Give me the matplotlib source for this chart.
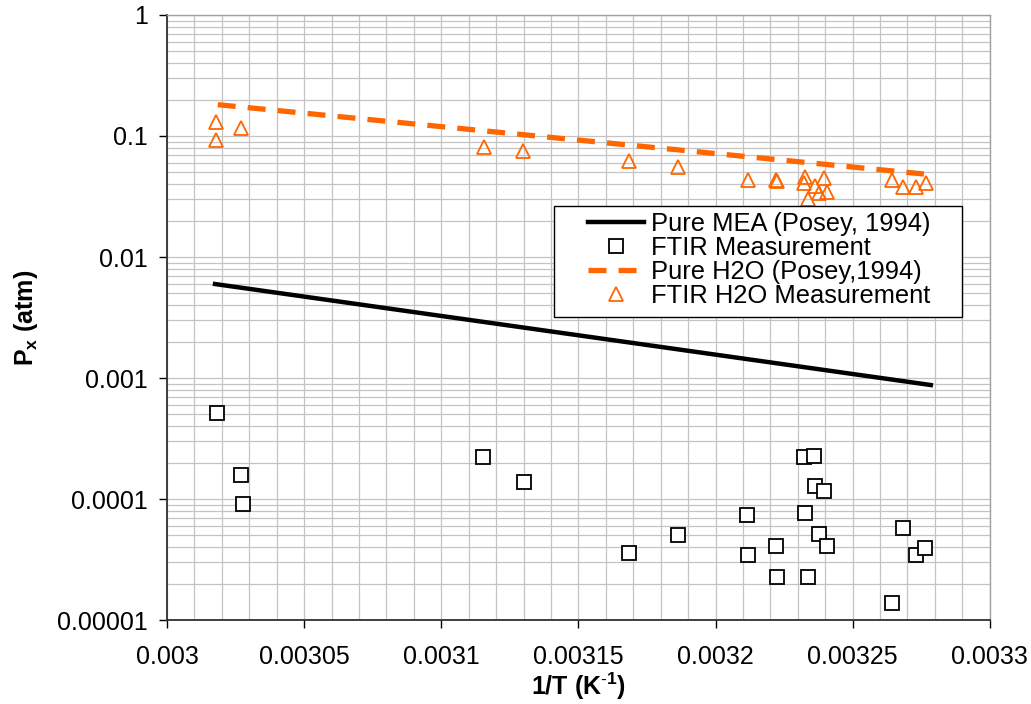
#!/usr/bin/env python3
"""Vapour pressure of MEA and H2O vs 1/T: Posey correlation and FTIR data."""

import matplotlib
matplotlib.use('Agg')
import matplotlib.pyplot as plt
from matplotlib.patches import Rectangle
from matplotlib.ticker import FixedLocator, FixedFormatter, MultipleLocator, LogLocator, NullFormatter

###############################################################################
# Data
###############################################################################

# Pure MEA (Posey, 1994) correlation line.
mea_x = [0.0030175, 0.0032785]
mea_y = [0.00598, 0.000875]

# Pure H2O (Posey, 1994) correlation line.
h2o_x = [0.0030185, 0.003276]
h2o_y = [0.1815, 0.0485]

# FTIR measurement (MEA), squares.
ftir_x = [0.0030182, 0.0030270, 0.0030277, 0.0031153, 0.0031303, 0.0031686,
          0.0031865, 0.0032113, 0.0032120, 0.0032219, 0.0032226, 0.0032321,
          0.0032328, 0.0032339, 0.0032358, 0.0032361, 0.0032376, 0.0032394,
          0.0032405, 0.0032642, 0.0032682, 0.0032730, 0.0032763]
ftir_y = [0.000514, 0.000158, 0.0000910, 0.000222, 0.000138, 0.0000358,
          0.0000504, 0.0000738, 0.0000345, 0.0000409, 0.0000227, 0.000222,
          0.0000766, 0.0000227, 0.000227, 0.000128, 0.0000514, 0.000116,
          0.0000409, 0.0000138, 0.0000576, 0.0000345, 0.0000394]

# FTIR H2O measurement, triangles.
ftir_h2o_x = [0.0030179, 0.0030179, 0.0030270, 0.0031157, 0.0031299, 0.0031686,
              0.0031865, 0.0032117, 0.0032219, 0.0032226, 0.0032328, 0.0032321,
              0.0032361, 0.0032394, 0.0032405, 0.0032376, 0.0032339, 0.0032642,
              0.0032682, 0.0032730, 0.0032766]
ftir_h2o_y = [0.1306, 0.0927, 0.1165, 0.0811, 0.0751, 0.0621,
              0.0554, 0.0433, 0.0433, 0.0425, 0.0458, 0.0409,
              0.0386, 0.0450, 0.0345, 0.0338, 0.0301, 0.0433,
              0.0379, 0.0379, 0.0409]

x_ticks = [0.003, 0.00305, 0.0031, 0.00315, 0.0032, 0.00325, 0.0033]
x_tick_labels = ['0.003', '0.00305', '0.0031', '0.00315', '0.0032', '0.00325', '0.0033']
y_ticks = [1, 0.1, 0.01, 0.001, 0.0001, 0.00001]
y_tick_labels = ['1', '0.1', '0.01', '0.001', '0.0001', '0.00001']

###############################################################################

ORANGE = '#FF6600'
GRID = '#c4c4c4'
FONT_SIZE = 18


def main():
    plt.rcParams['font.family'] = ['Liberation Sans', 'DejaVu Sans']
    plt.rcParams['mathtext.fontset'] = 'custom'
    plt.rcParams['mathtext.rm'] = 'Liberation Sans'
    plt.rcParams['mathtext.bf'] = 'Liberation Sans:bold'

    fig = plt.figure(figsize=(10.31, 7.04), dpi=100)
    ax = fig.add_axes([0.162, 0.1193, 0.798, 0.8594])

    ax.set_yscale('log')
    ax.set_xlim(0.003, 0.0033)
    ax.set_ylim(0.00001, 1)

    # Gridlines: every 0.00001 on x, 1..9 per decade on y.
    ax.xaxis.set_minor_locator(MultipleLocator(0.00001))
    ax.yaxis.set_minor_locator(LogLocator(base=10, subs=range(2, 10)))
    ax.yaxis.set_minor_formatter(NullFormatter())
    ax.grid(True, which='both', color=GRID, linewidth=0.9)
    ax.set_axisbelow(True)

    ax.xaxis.set_major_locator(FixedLocator(x_ticks))
    ax.xaxis.set_major_formatter(FixedFormatter(x_tick_labels))
    ax.yaxis.set_major_locator(FixedLocator(y_ticks))
    ax.yaxis.set_major_formatter(FixedFormatter(y_tick_labels))
    ax.tick_params(which='major', direction='out', length=6, width=1,
                   labelsize=FONT_SIZE, colors='black')
    ax.tick_params(axis='x', which='major', pad=12)
    ax.tick_params(axis='y', which='major', pad=8)
    ax.tick_params(which='minor', length=0)

    for side in ('left', 'bottom'):
        ax.spines[side].set_color('#303030')
        ax.spines[side].set_linewidth(1.3)
    for side in ('right', 'top'):
        ax.spines[side].set_color('#a0a0a0')
        ax.spines[side].set_linewidth(1.0)

    # Curves and measurements.
    ax.plot(mea_x, mea_y, color='black', linewidth=3.2,
            label='Pure MEA (Posey, 1994)', zorder=3)
    ax.plot(ftir_x, ftir_y, linestyle='none', marker='s', markersize=9.5,
            markerfacecolor='white', markeredgecolor='black',
            markeredgewidth=1.3, label='FTIR Measurement', zorder=4)
    ax.plot(h2o_x, h2o_y, color=ORANGE, linewidth=3.8, dashes=(3.4, 2.3),
            label='Pure H2O (Posey,1994)', zorder=3)
    ax.plot(ftir_h2o_x, ftir_h2o_y, linestyle='none', marker='^', markersize=10.5,
            markerfacecolor='none', markeredgecolor=ORANGE,
            markeredgewidth=1.3, label='FTIR H2O Measurement', zorder=4)

    ax.set_xlabel(r'1/T (K$^{\mathbf{\text{-}1}}$)', fontsize=FONT_SIZE,
                  fontweight='bold', labelpad=1)
    ax.set_ylabel(r'$\mathbf{P_x}$ (atm)', fontsize=FONT_SIZE, fontweight='bold',
                  labelpad=12)

    # Legend box drawn as a plain rectangle, entries placed inside it.
    ax.add_patch(Rectangle((554 / 1031, 1 - 317 / 704), 408 / 1031, 111 / 704,
                           transform=fig.transFigure, facecolor='white',
                           edgecolor='black', linewidth=1.0, zorder=5,
                           clip_on=False))
    leg = ax.legend(loc='upper left', bbox_to_anchor=(588 / 1031, 1 - 212 / 704),
                    bbox_transform=fig.transFigure,
                    fontsize=18.4, frameon=False, borderpad=0,
                    labelspacing=0.0, handlelength=2.2, handletextpad=0.28,
                    borderaxespad=0)
    leg.set_zorder(6)

    fig.savefig('out.png', dpi=100)


if __name__ == '__main__':
    main()
